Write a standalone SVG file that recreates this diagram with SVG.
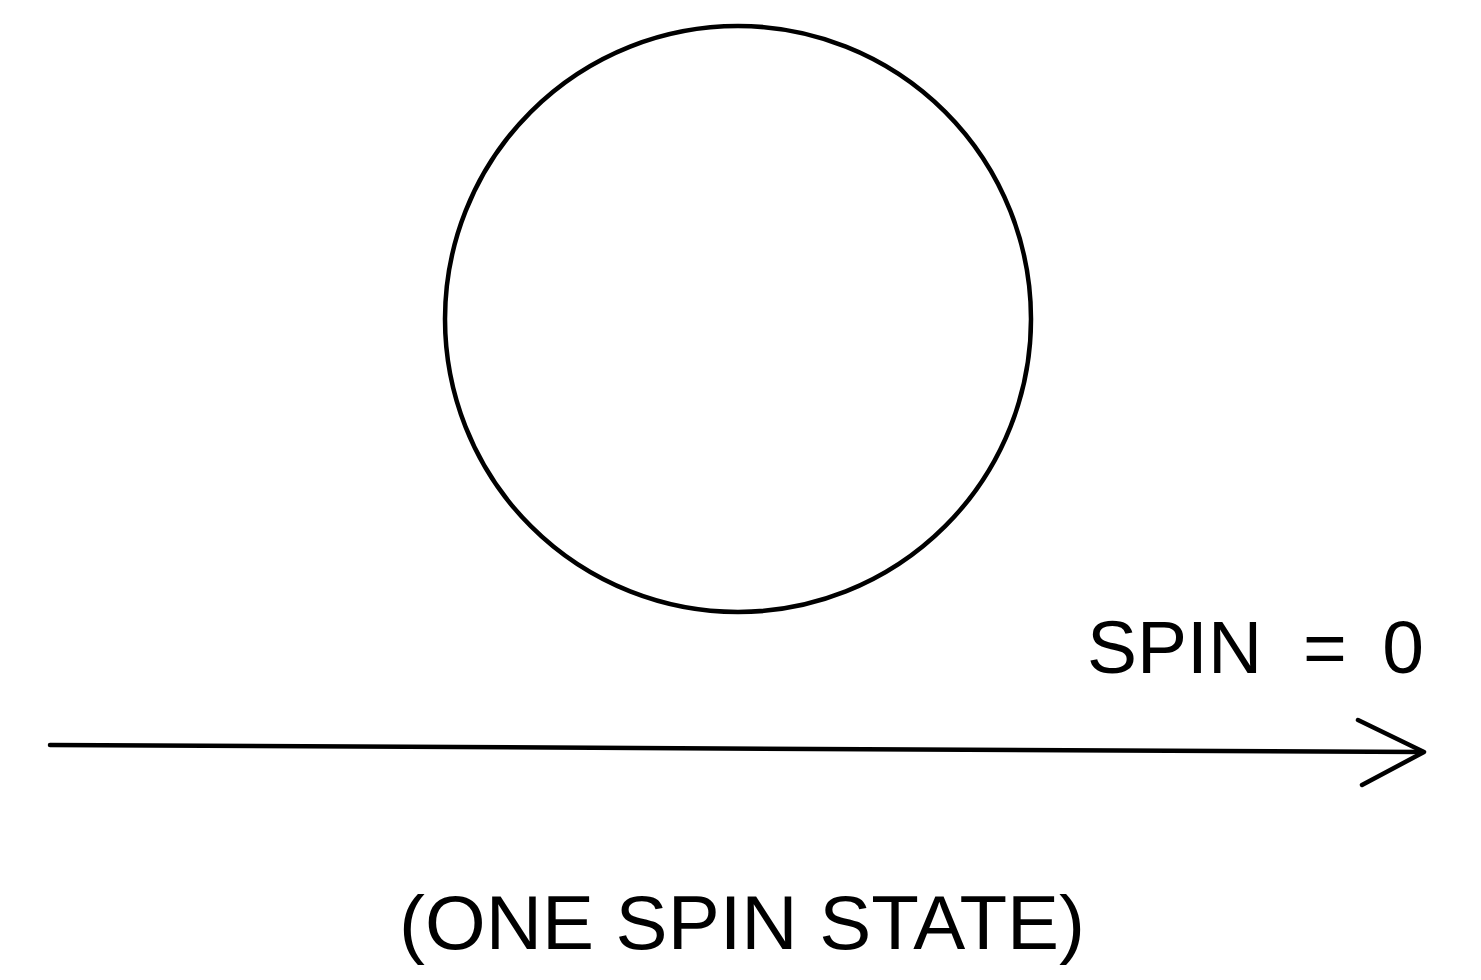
<svg xmlns="http://www.w3.org/2000/svg" width="1481" height="980" viewBox="0 0 1481 980">
<style>
.ln{fill:none;stroke:#000;stroke-width:4.5;stroke-linecap:round;stroke-linejoin:round}
.t{font-family:"Liberation Sans",Arial,sans-serif;fill:#000}
</style>
<rect width="1481" height="980" fill="#fff"/>
<g id="circle">
<circle class="ln" cx="738" cy="319" r="293"/>
</g>
<g id="connectors">
<line class="ln" x1="50" y1="745" x2="1423" y2="752"/>
<polyline class="ln" points="1358,720 1424,752 1362,785"/>
</g>
<g id="spin-label">
<text class="t" font-size="75" y="673"><tspan x="1087">SPIN</tspan><tspan x="1325" text-anchor="middle">=</tspan><tspan x="1403" text-anchor="middle">0</tspan></text>
</g>
<g id="caption">
<text class="t" x="399" y="949" font-size="76" textLength="686" lengthAdjust="spacingAndGlyphs">(ONE SPIN STATE)</text>
</g>
</svg>
